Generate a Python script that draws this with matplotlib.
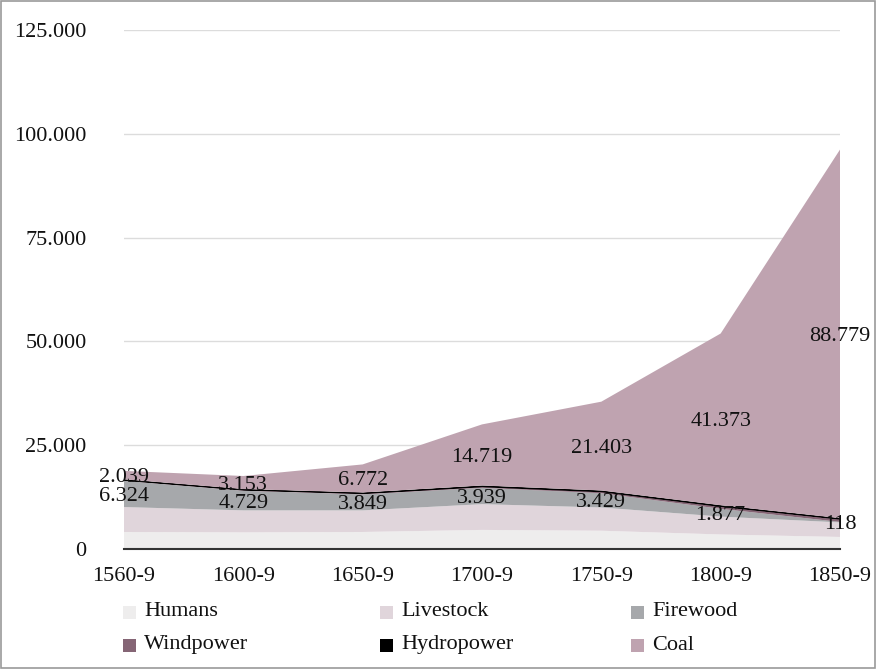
import matplotlib
matplotlib.use("Agg")
import matplotlib.pyplot as plt
from matplotlib.patches import Rectangle
from matplotlib.ticker import FuncFormatter

# Données
periods = ["1560-9", "1600-9", "1650-9", "1700-9", "1750-9", "1800-9", "1850-9"]
humans = [4100, 4000, 4100, 4600, 4400, 3500, 2900]
livestock = [6000, 5300, 5200, 6200, 5600, 4300, 3500]
firewood = [6324, 4729, 3849, 3939, 3429, 1877, 118]
windpower = [250, 300, 350, 400, 500, 700, 800]
hydropower = [100, 100, 100, 150, 150, 150, 100]
coal = [2039, 3153, 6772, 14719, 21403, 41373, 88779]

series = ["Humans", "Livestock", "Firewood", "Windpower", "Hydropower", "Coal"]
colors = ["#eeeded", "#e0d5db", "#a6a8ab", "#856575", "#000000", "#bfa3b0"]
values = [humans, livestock, firewood, windpower, hydropower, coal]

police = "Liberation Serif"

fig = plt.figure(figsize=(8.77, 6.71), dpi=100)
ax = fig.add_axes([124 / 877, 1 - 549 / 671, (840 - 124) / 877, (549 - 30) / 671])

x = list(range(len(periods)))
polys = ax.stackplot(x, *values, colors=colors, linewidth=0)
polys[4].set_edgecolor("#000000")
polys[4].set_linewidth(0.7)

# Étiquettes des valeurs (Firewood et Coal), au centre de chaque bande
base = [h + l for h, l in zip(humans, livestock)]
for i in x:
    fw_mid = base[i] + firewood[i] / 2
    top_fw = base[i] + firewood[i] + windpower[i] + hydropower[i]
    coal_mid = top_fw + coal[i] / 2
    ax.text(i, fw_mid, f"{firewood[i]:,}".replace(",", "."), ha="center",
            va="center_baseline", family=police, fontsize=16, color="#111111")
    ax.text(i, coal_mid, f"{coal[i]:,}".replace(",", "."), ha="center",
            va="center_baseline", family=police, fontsize=16, color="#111111")

ax.set_xlim(0, len(periods) - 1)
ax.set_ylim(0, 125000)
ax.set_yticks([0, 25000, 50000, 75000, 100000, 125000])
ax.yaxis.set_major_formatter(FuncFormatter(lambda v, p: f"{int(v):,}".replace(",", ".")))
ax.set_xticks(x)
ax.set_xticklabels(periods)
ax.grid(axis="y", color="#dcdcdc", linewidth=1)
ax.set_axisbelow(True)
for s in ["left", "right", "top"]:
    ax.spines[s].set_visible(False)
ax.spines["bottom"].set_color("#333333")
ax.spines["bottom"].set_linewidth(1.5)
ax.spines["bottom"].set_zorder(5)
ax.tick_params(axis="both", length=0, labelsize=16, colors="#111111")
ax.tick_params(axis="y", pad=27)
ax.tick_params(axis="x", pad=13)
for lab in ax.get_xticklabels() + ax.get_yticklabels():
    lab.set_family(police)

# Légende manuelle (3 colonnes, 2 lignes)
col_x = [123, 380, 631]
row_y = [612, 645]
for k, (name, c) in enumerate(zip(series, colors)):
    cx = col_x[k % 3]
    cy = row_y[k // 3]
    fig.patches.append(Rectangle((cx / 877, 1 - (cy + 7) / 671), 13 / 877, 13 / 671,
                                 transform=fig.transFigure, facecolor=c, edgecolor="none"))
    fig.text((cx + 21) / 877, 1 - cy / 671, name, ha="left", va="center",
             family=police, fontsize=16, color="#111111")

# Cadre gris autour de l'image
fig.patches.append(Rectangle((0.0015, 0.004), 0.996, 0.994, transform=fig.transFigure,
                             facecolor="none", edgecolor="#9a9a9a", linewidth=1.2))

fig.savefig("out.png", dpi=100)
